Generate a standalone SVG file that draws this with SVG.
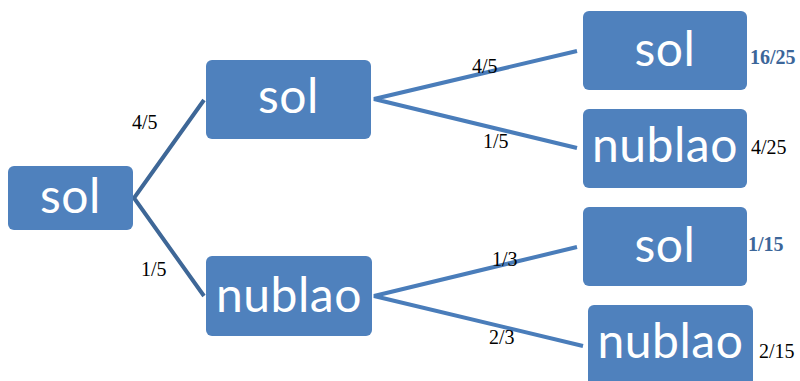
<svg xmlns="http://www.w3.org/2000/svg" width="800" height="381" viewBox="0 0 800 381">
<style>
.box{fill:#4F81BD;}
.nt{font-family:Lato,"Open Sans",sans-serif;font-size:48px;letter-spacing:0.5px;fill:#FFFFFF;text-anchor:middle;}
.pl{font-family:"Liberation Serif",serif;font-size:20px;fill:#000000;}
.res{font-family:"Liberation Serif",serif;font-size:20px;fill:#000000;}
.resb{font-family:"Liberation Serif",serif;font-size:20px;font-weight:bold;fill:#3C6699;}
.c1{stroke:#3E6797;stroke-width:4;fill:none;}
.c2{stroke:#4A7DBA;stroke-width:4;fill:none;}
</style>
<rect width="800" height="381" fill="#FFFFFF"/>
<g id="connectors">
<path class="c1" d="M204,100 L134,198 L204,296"/>
<path class="c2" d="M577,51 L374,99 L577,148"/>
<path class="c2" d="M577,247 L374,296 L583,346"/>
</g>
<g id="n-root"><rect class="box" x="8" y="166" width="125" height="64" rx="6"/><text class="nt" x="70.5" y="213">sol</text></g>
<g id="n-sol1"><rect class="box" x="206" y="60" width="165" height="79" rx="6"/><text class="nt" x="288.5" y="113">sol</text></g>
<g id="n-nub1"><rect class="box" x="206" y="256" width="166" height="80" rx="6"/><text class="nt" x="289" y="312">nublao</text></g>
<g id="n-sol-sol"><rect class="box" x="583" y="11" width="164" height="79" rx="6"/><text class="nt" x="665" y="66">sol</text></g>
<g id="n-sol-nub"><rect class="box" x="583" y="109" width="164" height="79" rx="6"/><text class="nt" x="665" y="162">nublao</text></g>
<g id="n-nub-sol"><rect class="box" x="583" y="207" width="164" height="79" rx="6"/><text class="nt" x="665" y="262">sol</text></g>
<g id="n-nub-nub"><rect class="box" x="588" y="305" width="165" height="82" rx="6"/><text class="nt" x="670.5" y="358">nublao</text></g>
<g id="labels">
<text class="pl" x="132" y="129">4/5</text>
<text class="pl" x="141" y="276">1/5</text>
<text class="pl" x="472" y="73">4/5</text>
<text class="pl" x="483" y="148">1/5</text>
<text class="pl" x="492" y="266">1/3</text>
<text class="pl" x="489" y="344">2/3</text>
<text class="resb" x="750" y="64">16/25</text>
<text class="res" x="751" y="154">4/25</text>
<text class="resb" x="748" y="251">1/15</text>
<text class="res" x="759" y="358">2/15</text>
</g>
</svg>
